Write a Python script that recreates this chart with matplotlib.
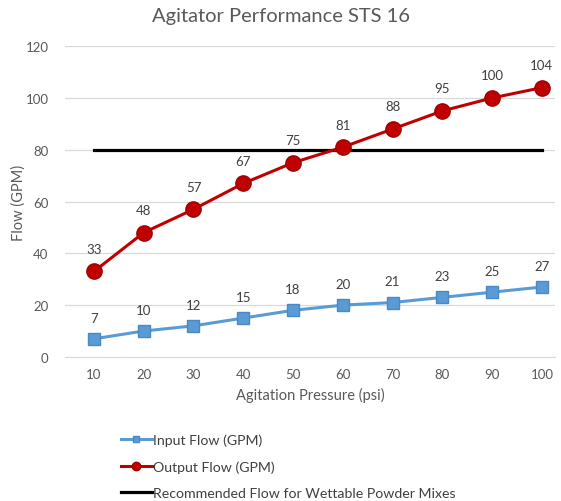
import matplotlib
matplotlib.use("Agg")
import matplotlib.pyplot as plt

pressure = [10, 20, 30, 40, 50, 60, 70, 80, 90, 100]
input_flow = [7, 10, 12, 15, 18, 20, 21, 23, 25, 27]
output_flow = [33, 48, 57, 67, 75, 81, 88, 95, 100, 104]
recommended = [80] * len(pressure)

plt.rcParams['font.family'] = ['Lato', 'DejaVu Sans']
txt = '#595959'

fig = plt.figure(figsize=(5.61, 5.02), dpi=100)
ax = fig.add_axes([0.116, 0.287, 0.873, 0.619])

xs = list(range(len(pressure)))
ax.plot(xs, input_flow, color='#5B9BD5', lw=2.2, marker='s', ms=8.5,
        mfc='#5B9BD5', mec='#4A8AC4', label='Input Flow (GPM)', zorder=3)
ax.plot(xs, output_flow, color='#C00000', lw=2.2, marker='o', ms=11,
        mfc='#C00000', mec='#A00000', label='Output Flow (GPM)', zorder=3)
ax.plot(xs, recommended, color='black', lw=2.3,
        label='Recommended Flow for Wettable Powder Mixes', zorder=2)

for x, v in zip(xs, input_flow):
    ax.annotate(str(v), (x, v), xytext=(0, 11), textcoords='offset points',
                ha='center', va='bottom', fontsize=9.5, color='#404040')
for x, v in zip(xs, output_flow):
    ax.annotate(str(v), (x, v), xytext=(0, 12), textcoords='offset points',
                ha='center', va='bottom', fontsize=9.5, color='#404040')

ax.set_ylim(0, 120)
ax.set_yticks(range(0, 121, 20))
ax.set_xlim(-0.58, 9.26)
ax.set_xticks(xs)
ax.set_xticklabels([str(p) for p in pressure])
ax.grid(axis='y', color='#D9D9D9', lw=0.9)
ax.set_axisbelow(True)
for s in ['top', 'right', 'left']:
    ax.spines[s].set_visible(False)
ax.spines['bottom'].set_color('#D9D9D9')
ax.tick_params(length=0, colors=txt, labelsize=9.5, pad=8)
ax.tick_params(axis='y', pad=12)

ax.set_xlabel('Agitation Pressure (psi)', color=txt, fontsize=10.5, labelpad=5)
ax.set_ylabel('Flow (GPM)', color=txt, fontsize=10.5)
ax.yaxis.set_label_coords(-0.08, 0.5)
fig.suptitle('Agitator Performance STS 16', color=txt, fontsize=14.5, y=0.985)

leg = fig.legend(loc='upper left', bbox_to_anchor=(0.205, 0.145), frameon=False,
                 fontsize=10.2, handlelength=2.2, handletextpad=0.05,
                 labelspacing=1.0, borderaxespad=0, markerscale=0.55)
for t in leg.get_texts():
    t.set_color('#404040')

fig.savefig('out.png', dpi=100)
